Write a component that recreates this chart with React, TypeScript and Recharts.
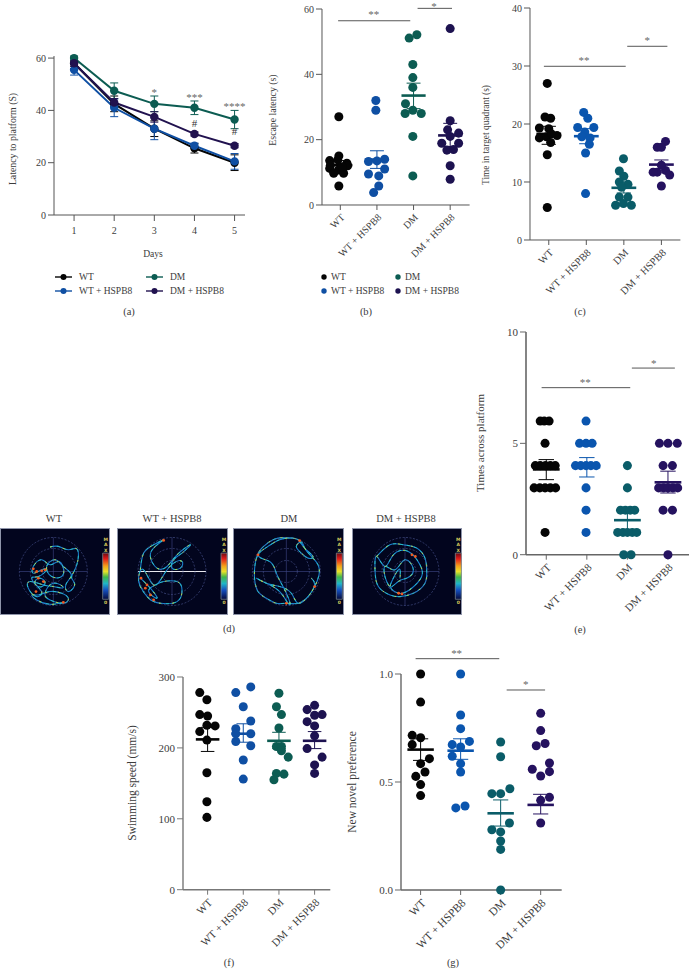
import {
  ComposedChart,
  ErrorBar,
  Line,
  ReferenceArea,
  ReferenceDot,
  ReferenceLine,
  Scatter,
  ScatterChart,
  XAxis,
  YAxis,
  ZAxis,
} from "recharts";

type Pair = [number, number];

const FONT = '"Liberation Serif", serif';
const INK = "#3c3c3c";

const groupNames = ["WT", "WT + HSPB8", "DM", "DM + HSPB8"];
const days = [1, 2, 3, 4, 5];

// panel a
const latencyWt = [58, 42.5, 33, 25.5, 20];
const latencyWtErr = [2, 3, 3, 1.8, 3];
const latencyWtH = [55.5, 41, 33, 26.5, 20.5];
const latencyWtHErr = [2, 3.4, 4.2, 1, 3];
const latencyDm = [60, 47.5, 42.5, 41, 36.5];
const latencyDmErr = [0.8, 3, 3, 2.6, 3.5];
const latencyDmH = [58, 43, 37.5, 31, 26.5];
const latencyDmHErr = [1.2, 1.5, 2, 0.8, 0.8];

// panel b
const escapeWt: Pair[] = [[0.96, 27], [0.96, 15], [0.71, 13.6], [0.93, 13.8], [1.18, 12.8], [0.71, 11.2], [0.95, 10.7], [1.2, 12], [0.82, 9.7], [1.09, 9.7], [0.96, 5.8], [0.73, 12.2], [1.05, 11.7]];
const escapeWtH: Pair[] = [[1.97, 32], [1.97, 29], [2.21, 14], [1.77, 13.3], [2, 13.5], [2.21, 11], [1.77, 9.5], [2.05, 8.9], [2.05, 5.8], [1.91, 3.8]];
const escapeDm: Pair[] = [[3.09, 52.1], [2.88, 51.1], [2.98, 43], [2.98, 39], [2.98, 36], [2.78, 31], [2.98, 29], [2.77, 28], [3.21, 28], [2.98, 21], [2.98, 8.9]];
const escapeDmH: Pair[] = [[4, 54], [4, 25.8], [3.93, 23], [4.23, 22], [4, 21], [3.77, 18.9], [4.23, 18.9], [3.91, 16.8], [4.09, 17], [4, 12], [4, 7.9]];
const escapeMeans = [12.2, 13.9, 33.5, 21.3];
const escapeUpper = [13.6, 16.6, 37.3, 25];
const escapeLower = [10.8, 11.2, 29.5, 17.9];

// panel c
const quadrantWt: Pair[] = [[0.96, 27], [0.9, 21.2], [1.05, 21], [0.75, 19.3], [1, 19.2], [1.22, 18], [0.75, 17.6], [0.94, 17.8], [1.05, 16.8], [0.96, 14.7], [0.96, 5.6], [1.07, 18.3]];
const quadrantWtH: Pair[] = [[1.93, 22], [2.04, 21], [1.77, 19.4], [2.2, 19.4], [1.96, 18.6], [1.88, 17.8], [2.1, 17.6], [2.08, 16.5], [1.98, 15], [1.98, 8]];
const quadrantDm: Pair[] = [[2.99, 14], [2.88, 11.9], [3, 11], [2.88, 10], [3.11, 9.6], [2.94, 9.1], [2.88, 7.4], [3.11, 7.4], [2.78, 6], [2.99, 6.3], [3.2, 6]];
const quadrantDmH: Pair[] = [[4.11, 17], [3.89, 16], [4, 16], [3.89, 11.7], [4.11, 12], [4.22, 11.2], [4, 9.3], [4, 12.9], [3.78, 11.7]];
const quadrantMeans = [18.3, 17.9, 9, 13];
const quadrantUpper = [19.6, 19.2, 10, 13.8];
const quadrantLower = [16.5, 16.6, 8.1, 12.3];

// panel e
const crossingWt: Pair[] = [[0.85, 6], [0.95, 6], [1.07, 6], [0.97, 5], [0.73, 4], [0.85, 4], [0.98, 4], [1.1, 4], [1.22, 4], [0.7, 3], [0.84, 3], [0.97, 3], [1.1, 3], [1.23, 3], [0.97, 1]];
const crossingWtH: Pair[] = [[1.98, 6], [1.82, 5], [1.98, 5], [2.13, 5], [1.72, 4], [1.85, 4], [1.98, 4], [2.1, 4], [2.23, 4], [1.98, 3], [1.98, 2], [1.98, 1]];
const crossingDm: Pair[] = [[3, 4], [3, 3], [2.83, 2], [2.95, 2], [3.07, 2], [3.18, 2], [2.76, 1], [2.89, 1], [3, 1], [3.12, 1], [3.23, 1], [2.91, 0], [3.09, 0]];
const crossingDmH: Pair[] = [[3.79, 5], [4, 5], [4.23, 5], [3.88, 4], [4.11, 4], [3.77, 3], [3.89, 3], [4, 3], [4.12, 3], [4.24, 3], [3.88, 2], [4.11, 2], [4, 0]];
const crossingMeans = [3.83, 3.93, 1.55, 3.25];
const crossingUpper = [4.27, 4.36, 2.1, 3.75];
const crossingLower = [3.37, 3.49, 1.05, 2.77];

// panel f
const speedWt: Pair[] = [[0.78, 278], [0.98, 268], [0.78, 247], [1, 245], [0.98, 232], [1.21, 231], [0.78, 223], [0.98, 211], [0.98, 165], [0.98, 124], [0.98, 102]];
const speedWtH: Pair[] = [[1.79, 278], [2.21, 286], [2, 258], [2.21, 238], [1.79, 227], [2.21, 220], [1.79, 220], [1.79, 209], [2.21, 203], [2, 183], [2, 156]];
const speedDm: Pair[] = [[3, 277], [2.93, 258], [3.07, 247], [3, 228], [2.93, 202], [3.07, 202], [3.07, 196], [3.26, 187], [2.93, 164], [3.14, 163], [2.86, 155]];
const speedDmH: Pair[] = [[4, 260], [3.79, 254], [4.21, 247], [4, 246], [3.79, 237], [4, 231], [4, 217], [3.79, 199], [4.21, 187], [4, 176], [4, 164]];
const speedMeans = [212, 220, 210, 210];
const speedUpper = [229, 234, 222, 223];
const speedLower = [195, 208, 199, 199];

// panel g
const noveltyWt: Pair[] = [[1, 1], [1, 0.87], [0.79, 0.716], [1, 0.705], [0.79, 0.673], [1.22, 0.608], [1, 0.585], [1.11, 0.546], [0.88, 0.526], [1, 0.488], [1, 0.437]];
const noveltyWtH: Pair[] = [[2, 1], [2, 0.81], [2, 0.747], [2.22, 0.688], [1.79, 0.673], [2, 0.662], [1.79, 0.619], [2, 0.585], [2, 0.546], [2.11, 0.389], [1.88, 0.38]];
const noveltyDm: Pair[] = [[3, 0.685], [3, 0.617], [3.23, 0.469], [2.78, 0.446], [3, 0.446], [3.22, 0.31], [2.78, 0.279], [3, 0.269], [3, 0.227], [3, 0.188], [3, 0]];
const noveltyDmH: Pair[] = [[4, 0.818], [4, 0.738], [4.11, 0.678], [3.89, 0.668], [4.22, 0.588], [3.79, 0.559], [4.22, 0.548], [4, 0.528], [4.22, 0.429], [4, 0.415], [4, 0.31]];
const noveltyMeans = [0.65, 0.645, 0.355, 0.394];
const noveltyUpper = [0.7, 0.7, 0.417, 0.443];
const noveltyLower = [0.6, 0.605, 0.296, 0.352];

// swim tracks in its own 330 x 260 grid
const trackWt: Pair[] = [[150, 57], [175, 55], [205, 65], [230, 62], [234, 95], [222, 130], [215, 150], [224, 170], [205, 190], [198, 168], [214, 140], [190, 115], [165, 95], [140, 115], [155, 145], [185, 145], [190, 120], [175, 100], [150, 110], [125, 95], [100, 115], [100, 135], [125, 125], [140, 125], [115, 145], [95, 150], [115, 175], [135, 165], [120, 150], [105, 165], [125, 190], [110, 205], [85, 180], [90, 160], [130, 170], [160, 175], [190, 178], [160, 165], [135, 195], [150, 215], [190, 225], [205, 210], [185, 195], [150, 190], [115, 200], [95, 200], [110, 215], [150, 228], [190, 222]];
const hotWt: Pair[] = [[110, 130], [125, 128], [100, 122], [115, 150], [130, 160], [108, 190], [190, 222], [135, 125]];
const trackWtH: Pair[] = [[70, 125], [80, 75], [110, 50], [140, 35], [115, 55], [100, 85], [120, 120], [150, 115], [180, 80], [220, 50], [195, 75], [170, 95], [165, 120], [190, 120], [195, 100], [170, 105], [140, 140], [110, 170], [80, 125], [65, 145], [70, 175], [95, 210], [130, 225], [180, 220], [195, 185], [180, 160], [140, 160], [115, 170], [95, 190], [120, 210], [100, 180], [70, 150]];
const hotWtH: Pair[] = [[72, 150], [85, 180], [100, 200], [110, 215], [90, 170], [140, 37]];
const trackDm: Pair[] = [[200, 38], [180, 30], [140, 35], [105, 55], [75, 80], [65, 120], [65, 155], [75, 190], [100, 210], [130, 225], [160, 225], [195, 225], [225, 205], [245, 175], [258, 140], [255, 110], [235, 85], [215, 60], [205, 42], [190, 55], [205, 75], [225, 90], [240, 85], [215, 60], [195, 35], [170, 30], [120, 35], [75, 80], [110, 100], [130, 135], [150, 175], [170, 220], [165, 225], [140, 190], [100, 165], [70, 150], [100, 165], [140, 175], [175, 195], [195, 225], [225, 205], [245, 170], [235, 150]];
const hotDm: Pair[] = [[200, 38], [75, 80], [160, 225], [245, 175]];
const trackDmH: Pair[] = [[74, 85], [114, 50], [154, 50], [194, 60], [219, 90], [224, 125], [219, 165], [184, 195], [144, 205], [114, 200], [79, 175], [69, 125], [74, 85], [99, 115], [124, 80], [169, 70], [204, 110], [209, 145], [179, 180], [139, 195], [104, 160], [99, 115], [129, 125], [159, 95], [184, 125], [164, 150], [139, 160], [114, 175], [139, 125], [144, 150]];
const hotDmH: Pair[] = [[180, 80], [190, 85], [140, 195], [150, 197]];

const toPoints = (pairs: Pair[]) => pairs.map(([x, y]) => ({ x, y }));

const tickStyle = (fontSize: number) => ({ fontSize, fill: INK, fontFamily: FONT });

interface TextProps {
  x: number;
  y: number;
  children: React.ReactNode;
  size?: number;
  rotate?: number;
  color?: string;
}

function Caption({ x, y, children, size = 10.5, rotate = 0, color = INK }: TextProps) {
  return (
    <div
      style={{
        position: "absolute",
        left: x,
        top: y,
        transform: `translate(-50%, -50%) rotate(${rotate}deg)`,
        fontFamily: FONT,
        fontSize: size,
        color,
        whiteSpace: "nowrap",
        lineHeight: 1,
      }}
    >
      {children}
    </div>
  );
}

function LegendRow({ x, y, label, color, line }: { x: number; y: number; label: string; color: string; line: boolean }) {
  return (
    <>
      <svg style={{ position: "absolute", left: x, top: y - 5 }} width={18} height={10}>
        {line && <path d="M0 5H17" stroke={color} strokeWidth={1.4} />}
        <circle cx={line ? 8.5 : 3} cy={5} r={line ? 3 : 2.7} fill={color} />
      </svg>
      <div
        style={{
          position: "absolute",
          left: x + (line ? 24 : 10),
          top: y - 5,
          fontFamily: FONT,
          fontSize: 9.5,
          lineHeight: "10px",
          color: INK,
          whiteSpace: "nowrap",
        }}
      >
        {label}
      </div>
    </>
  );
}

function LatencyChart() {
  const rows = days.map((day, i) => ({
    day,
    wt: latencyWt[i],
    wtErr: latencyWtErr[i],
    wtH: latencyWtH[i],
    wtHErr: latencyWtHErr[i],
    dm: latencyDm[i],
    dmErr: latencyDmErr[i],
    dmH: latencyDmH[i],
    dmHErr: latencyDmHErr[i],
  }));
  const series = [
    { key: "wt", err: "wtErr", color: "#050505" },
    { key: "dm", err: "dmErr", color: "#0c5c52" },
    { key: "wtH", err: "wtHErr", color: "#0f4fa3" },
    { key: "dmH", err: "dmHErr", color: "#21124f" },
  ];
  const marks = [
    { x: 3, y: 47, text: "*", color: "#666" },
    { x: 4, y: 45, text: "***", color: "#666" },
    { x: 5, y: 41.5, text: "****", color: "#666" },
    { x: 4, y: 35, text: "#", color: "#333" },
    { x: 5, y: 32, text: "#", color: "#333" },
  ];
  return (
    <div style={{ position: "absolute", left: 4, top: 36 }}>
      <ComposedChart width={243} height={205} data={rows} margin={{ top: 20, left: 0, right: 2, bottom: 0 }}>
        <XAxis
          dataKey="day"
          type="number"
          domain={[0.5, 5.26]}
          ticks={days}
          axisLine={{ stroke: "#555" }}
          tickLine={{ stroke: "#555" }}
          tick={tickStyle(10)}
          tickSize={6}
          tickMargin={6}
          height={26}
          interval={0}
        />
        <YAxis
          type="number"
          domain={[0, 60]}
          ticks={[0, 20, 40, 60]}
          axisLine={{ stroke: "#555" }}
          tickLine={{ stroke: "#555" }}
          tick={tickStyle(10)}
          tickSize={6}
          tickMargin={2}
          width={50}
        />
        {series.map((s) => (
          <Line key={s.key} dataKey={s.key} stroke={s.color} strokeWidth={2} dot={{ r: 3.2, fill: s.color, stroke: s.color }} isAnimationActive={false}>
            <ErrorBar dataKey={s.err} direction="y" stroke={s.color} strokeWidth={1} width={4} isAnimationActive={false} />
          </Line>
        ))}
        {marks.map((m, i) => (
          <ReferenceDot
            key={i}
            x={m.x}
            y={m.y}
            r={0}
            ifOverflow="visible"
            label={{ value: m.text, position: "center", fontSize: 11, fill: m.color, fontFamily: FONT }}
          />
        ))}
      </ComposedChart>
    </div>
  );
}

interface Bracket {
  from: number;
  to: number;
  y: number;
  text: string;
  textX: number;
  textY: number;
}

interface DotPanelProps {
  plotLeft: number;
  plotTop: number;
  plotWidth: number;
  plotHeight: number;
  xDomain: [number, number];
  yMax: number;
  yTicks: number[];
  yFormat?: (v: number) => string;
  groups: Pair[][];
  colors: string[];
  means: number[];
  upper: number[];
  lower: number[];
  brackets: Bracket[];
  yAxisWidth?: number;
  axisColor?: string;
  xFont?: number;
  yFont?: number;
}

function DotPanel(props: DotPanelProps) {
  const { plotLeft, plotTop, plotWidth, plotHeight, xDomain, yMax, yTicks, yFormat, groups, colors, means, upper, lower, brackets } = props;
  const axisColor = props.axisColor ?? "#555";
  const axisWidth = props.yAxisWidth ?? 1;
  const yAxisBox = 60;
  const topPad = 30;
  return (
    <div style={{ position: "absolute", left: plotLeft - yAxisBox, top: plotTop - topPad }}>
      <ScatterChart
        width={yAxisBox + plotWidth + 8}
        height={topPad + plotHeight + 75}
        margin={{ top: topPad, left: 0, right: 8, bottom: 0 }}
      >
        <XAxis
          type="number"
          dataKey="x"
          domain={xDomain}
          ticks={[1, 2, 3, 4]}
          tickFormatter={(v: number) => groupNames[v - 1]}
          interval={0}
          angle={-45}
          textAnchor="end"
          height={75}
          tickSize={5}
          tickMargin={3}
          axisLine={{ stroke: axisColor, strokeWidth: axisWidth }}
          tickLine={{ stroke: axisColor }}
          tick={tickStyle(props.xFont ?? 10)}
        />
        <YAxis
          type="number"
          dataKey="y"
          domain={[0, yMax]}
          ticks={yTicks}
          tickFormatter={yFormat}
          width={yAxisBox}
          tickSize={6}
          tickMargin={2}
          axisLine={{ stroke: axisColor, strokeWidth: axisWidth }}
          tickLine={{ stroke: axisColor }}
          tick={tickStyle(props.yFont ?? 10)}
        />
        <ZAxis range={[78, 78]} />
        {groups.map((g, i) => (
          <Scatter key={i} data={toPoints(g)} fill={colors[i]} isAnimationActive={false} />
        ))}
        {means.map((m, i) => {
          const cx = i + 1;
          return [
            <ReferenceLine key={`stem${i}`} ifOverflow="visible" stroke={colors[i]} strokeWidth={1} segment={[{ x: cx, y: lower[i] }, { x: cx, y: upper[i] }]} />,
            <ReferenceLine key={`up${i}`} ifOverflow="visible" stroke={colors[i]} strokeWidth={1} segment={[{ x: cx - 0.19, y: upper[i] }, { x: cx + 0.19, y: upper[i] }]} />,
            <ReferenceLine key={`low${i}`} ifOverflow="visible" stroke={colors[i]} strokeWidth={1} segment={[{ x: cx - 0.19, y: lower[i] }, { x: cx + 0.19, y: lower[i] }]} />,
            <ReferenceLine key={`mean${i}`} ifOverflow="visible" stroke={colors[i]} strokeWidth={2.6} segment={[{ x: cx - 0.33, y: m }, { x: cx + 0.33, y: m }]} />,
          ];
        })}
        {brackets.map((b, i) => [
          <ReferenceLine key={`br${i}`} ifOverflow="visible" stroke="#555" strokeWidth={1} segment={[{ x: b.from, y: b.y }, { x: b.to, y: b.y }]} />,
          <ReferenceDot
            key={`st${i}`}
            x={b.textX}
            y={b.textY}
            r={0}
            ifOverflow="visible"
            label={{ value: b.text, position: "center", fontSize: 11, fill: "#666", fontFamily: FONT }}
          />,
        ])}
      </ScatterChart>
    </div>
  );
}

const darkPalette = ["#050505", "#0f4fa3", "#0c5c52", "#1d1250"];
const tealPalette = ["#050505", "#0a55ae", "#0a5c68", "#25125f"];

interface HeatProps {
  left: number;
  width: number;
  id: string;
  cx: number;
  barX: number;
  track: Pair[];
  hot: Pair[];
  whiteLine?: boolean;
}

function HeatMap({ left, width, id, cx, barX, track, hot, whiteLine }: HeatProps) {
  const rings = [34, 23, 11];
  return (
    <div style={{ position: "absolute", left, top: 528, width, height: 87, background: "#02051e", outline: "1px solid #8f95aa", outlineOffset: -1 }}>
      <ComposedChart width={width} height={87} margin={{ top: 0, left: 0, right: 0, bottom: 0 }}>
        <defs>
          <linearGradient id={id} x1="0" y1="0" x2="0" y2="1">
            <stop offset="0" stopColor="#6b0a12" />
            <stop offset="0.12" stopColor="#e01a1a" />
            <stop offset="0.28" stopColor="#f5a11a" />
            <stop offset="0.4" stopColor="#e8e22a" />
            <stop offset="0.52" stopColor="#3fb84a" />
            <stop offset="0.66" stopColor="#1fb6c8" />
            <stop offset="0.8" stopColor="#1550c0" />
            <stop offset="1" stopColor="#060b3c" />
          </linearGradient>
        </defs>
        <XAxis hide type="number" dataKey="x" domain={[0, (width * 330) / 110]} />
        <YAxis hide type="number" dataKey="y" domain={[0, 260]} reversed />
        <ZAxis range={[6, 6]} />
        {rings.map((r) => (
          <ReferenceDot key={r} x={cx} y={130} r={r} fill="none" stroke="#4f5a98" strokeWidth={0.6} strokeDasharray="2 1.5" ifOverflow="visible" />
        ))}
        <ReferenceLine ifOverflow="visible" stroke="#3f4888" strokeWidth={0.6} segment={[{ x: cx, y: 28 }, { x: cx, y: 232 }]} />
        <ReferenceLine ifOverflow="visible" stroke={whiteLine ? "#e8e8ee" : "#3f4888"} strokeWidth={whiteLine ? 1 : 0.6} segment={[{ x: cx - 102, y: 130 }, { x: cx + 102, y: 130 }]} />
        <ReferenceArea x1={barX} x2={barX + 18} y1={75} y2={213} fill={`url(#${id})`} fillOpacity={1} stroke="#7f8f95" strokeWidth={0.7} ifOverflow="visible" />
        <Line data={toPoints(track)} dataKey="y" type="natural" stroke="#1b7fcc" strokeWidth={1.1} dot={false} isAnimationActive={false} />
        <Line data={toPoints(track)} dataKey="y" type="natural" stroke="#2fd0c0" strokeWidth={0.8} strokeDasharray="3 4" dot={false} isAnimationActive={false} />
        <Line data={toPoints(track)} dataKey="y" type="natural" stroke="#c4dc3c" strokeWidth={0.9} strokeDasharray="2 11" dot={false} isAnimationActive={false} />
        <Scatter data={toPoints(hot)} fill="#ef5a20" isAnimationActive={false} />
      </ComposedChart>
      <div
        style={{
          position: "absolute",
          left: barX / 3,
          top: 9,
          width: 6,
          textAlign: "center",
          fontFamily: '"DejaVu Sans", sans-serif',
          fontWeight: 700,
          fontSize: 4.5,
          lineHeight: "5.4px",
          color: "#d6c95a",
        }}
      >
        M<br />A<br />X
      </div>
      <div
        style={{
          position: "absolute",
          left: barX / 3,
          top: 72,
          width: 6,
          textAlign: "center",
          fontFamily: '"DejaVu Sans", sans-serif',
          fontWeight: 700,
          fontSize: 4.5,
          lineHeight: "5px",
          color: "#d6c95a",
        }}
      >
        0
      </div>
    </div>
  );
}

export default function App() {
  return (
    <div style={{ position: "absolute", left: 0, top: 0, width: 689, height: 970, overflow: "hidden", background: "#fff" }}>
      <LatencyChart />
      <Caption x={13} y={139} rotate={-90} size={9.8}>Latency to platform (S)</Caption>
      <Caption x={153} y={254} size={9.6}>Days</Caption>
      <LegendRow x={55} y={277} label="WT" color="#050505" line />
      <LegendRow x={55} y={291} label="WT + HSPB8" color="#0f4fa3" line />
      <LegendRow x={146} y={277} label="DM" color="#0c5c52" line />
      <LegendRow x={146} y={291} label="DM + HSPB8" color="#21124f" line />
      <Caption x={129} y={312}>(a)</Caption>

      <DotPanel
        plotLeft={321.7}
        plotTop={9}
        plotWidth={147.6}
        plotHeight={196}
        xDomain={[0.5, 4.53]}
        yMax={60}
        yTicks={[0, 20, 40, 60]}
        groups={[escapeWt, escapeWtH, escapeDm, escapeDmH]}
        colors={darkPalette}
        means={escapeMeans}
        upper={escapeUpper}
        lower={escapeLower}
        brackets={[
          { from: 0.94, to: 2.91, y: 56.4, text: "**", textX: 1.91, textY: 58.5 },
          { from: 3.11, to: 4.05, y: 60.2, text: "*", textX: 3.56, textY: 60.9 },
        ]}
      />
      <Caption x={273} y={110} rotate={-90} size={9.8}>Escape latency (s)</Caption>
      <LegendRow x={321} y={277} label="WT" color="#050505" line={false} />
      <LegendRow x={321} y={291} label="WT + HSPB8" color="#0f4fa3" line={false} />
      <LegendRow x={395} y={277} label="DM" color="#0c5c52" line={false} />
      <LegendRow x={395} y={291} label="DM + HSPB8" color="#1d1250" line={false} />
      <Caption x={366} y={312}>(b)</Caption>

      <DotPanel
        plotLeft={530.3}
        plotTop={7.7}
        plotWidth={150.4}
        plotHeight={232}
        xDomain={[0.5, 4.506]}
        yMax={40}
        yTicks={[0, 10, 20, 30, 40]}
        groups={[quadrantWt, quadrantWtH, quadrantDm, quadrantDmH]}
        colors={tealPalette}
        means={quadrantMeans}
        upper={quadrantUpper}
        lower={quadrantLower}
        xFont={10.5}
        brackets={[
          { from: 0.87, to: 3.05, y: 29.95, text: "**", textX: 1.94, textY: 31.1 },
          { from: 3.09, to: 4.16, y: 33.4, text: "*", textX: 3.62, textY: 34.5 },
        ]}
      />
      <Caption x={487} y={135} rotate={-90} size={9.4}>Time in target quadrant (s)</Caption>
      <Caption x={580} y={312}>(c)</Caption>

      <Caption x={54} y={519}>{groupNames[0]}</Caption>
      <Caption x={172} y={519}>{groupNames[1]}</Caption>
      <Caption x={289} y={519}>{groupNames[2]}</Caption>
      <Caption x={406} y={519}>{groupNames[3]}</Caption>
      <HeatMap left={0} width={110} id="heatA" cx={160} barX={308} track={trackWt} hot={hotWt} />
      <HeatMap left={117} width={111} id="heatB" cx={165} barX={312} track={trackWtH} hot={hotWtH} whiteLine />
      <HeatMap left={233} width={111} id="heatC" cx={160} barX={310} track={trackDm} hot={hotDm} />
      <HeatMap left={352} width={110} id="heatD" cx={159} barX={310} track={trackDmH} hot={hotDmH} />
      <Caption x={229} y={629}>(d)</Caption>

      <DotPanel
        plotLeft={525.7}
        plotTop={332.3}
        plotWidth={163.3}
        plotHeight={222.7}
        xDomain={[0.5, 4.526]}
        yMax={10}
        yTicks={[0, 5, 10]}
        groups={[crossingWt, crossingWtH, crossingDm, crossingDmH]}
        colors={tealPalette}
        means={crossingMeans}
        upper={crossingUpper}
        lower={crossingLower}
        yAxisWidth={1.6}
        axisColor="#666"
        xFont={11}
        yFont={11}
        brackets={[
          { from: 0.885, to: 3.07, y: 7.5, text: "**", textX: 1.96, textY: 7.75 },
          { from: 3.11, to: 4.17, y: 8.38, text: "*", textX: 3.65, textY: 8.6 },
        ]}
      />
      <Caption x={480} y={443} rotate={-90} size={11}>Times across platform</Caption>
      <Caption x={580} y={630}>(e)</Caption>

      <DotPanel
        plotLeft={182.7}
        plotTop={677}
        plotWidth={147.3}
        plotHeight={212.7}
        xDomain={[0.31, 4.44]}
        yMax={300}
        yTicks={[0, 100, 200, 300]}
        groups={[speedWt, speedWtH, speedDm, speedDmH]}
        colors={darkPalette}
        means={speedMeans}
        upper={speedUpper}
        lower={speedLower}
        yAxisWidth={1.4}
        axisColor="#777"
        xFont={11}
        yFont={11}
        brackets={[]}
      />
      <Caption x={133} y={783} rotate={-90} size={11.5}>Swimming speed (mm/s)</Caption>
      <Caption x={229} y={963}>(f)</Caption>

      <DotPanel
        plotLeft={401}
        plotTop={673.7}
        plotWidth={160.7}
        plotHeight={216}
        xDomain={[0.51, 4.525]}
        yMax={1}
        yTicks={[0, 0.5, 1]}
        yFormat={(v) => v.toFixed(1)}
        groups={[noveltyWt, noveltyWtH, noveltyDm, noveltyDmH]}
        colors={tealPalette}
        means={noveltyMeans}
        upper={noveltyUpper}
        lower={noveltyLower}
        yAxisWidth={1.4}
        axisColor="#666"
        xFont={11.5}
        yFont={11}
        brackets={[
          { from: 0.875, to: 2.965, y: 1.071, text: "**", textX: 1.9, textY: 1.097 },
          { from: 3.15, to: 4.11, y: 0.926, text: "*", textX: 3.625, textY: 0.952 },
        ]}
      />
      <Caption x={353} y={782} rotate={-90} size={11.5}>New novel preference</Caption>
      <Caption x={453} y={963}>(g)</Caption>
    </div>
  );
}
